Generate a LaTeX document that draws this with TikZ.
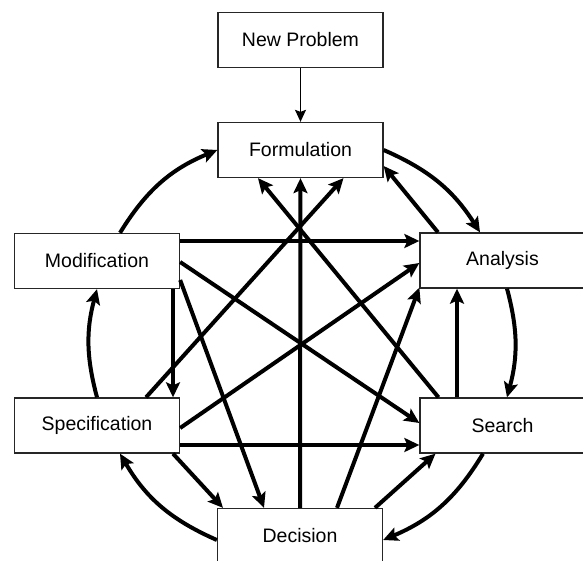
\documentclass[tikz,border=0pt]{standalone}
\usepackage{fontspec}
\setmainfont{Liberation Sans}
\usetikzlibrary{arrows.meta,calc}
\begin{document}
\begin{tikzpicture}[x=1pt,y=-1pt,
  stage/.style={draw=black!85,line width=1.3pt,fill=white,
    minimum width=165pt,minimum height=55pt,inner sep=0pt,
    font=\fontsize{19.5}{23}\selectfont},
  flow/.style={line width=4pt,-{Stealth[length=15pt,width=14pt,inset=3pt]}},
  ring/.style={flow},
  feed/.style={line width=1.3pt,-{Stealth[length=12pt,width=11pt,inset=2pt]}}]
\useasboundingbox (0,0) rectangle (583,561);
\clip (0,0) rectangle (583,561);
\fill[white] (0,0) rectangle (583,561);

% stages of the cycle
\node[stage] (np)   at (300.5,40)    {New Problem};
\node[stage] (form) at (300.5,150)   {Formulation};
\node[stage] (mod)  at (97,261)      {Modification};
\node[stage] (ana)  at (502.5,260.5) {Analysis};
\node[stage] (spec) at (97,425.5)    {Specification};
\node[stage] (srch) at (502.5,425.5) {Search};
\node[stage] (dec)  at (300,536)     {Decision};

% entry
\draw[feed] (np.south) -- (form.north);

% outer cycle
\draw[ring] ($(mod.north)+(23,0)$) to[bend left=18] (form.west);
\draw[ring] (form.east) to[bend left=17] ($(ana.north)+(-22.5,0)$);
\draw[ring] ($(ana.south)+(4.5,0)$) to[bend left=15] ($(srch.north)+(4.5,0)$);
\draw[ring] ($(srch.south)+(-19.5,0)$) to[bend left=18] ($(dec.east)+(0,4)$);
\draw[ring] ($(dec.west)+(0,4)$) to[bend left=18] ($(spec.south)+(23,0)$);
\draw[ring] (spec.north) to[bend left=15] (mod.south);

% cross links
\draw[flow] ($(mod.east)+(0,-20)$) -- ($(ana.west)+(0,-19.5)$);
\draw[flow] ($(mod.east)+(0,1)$) -- ($(srch.west)+(0,-2.5)$);
\draw[flow] ($(mod.east)+(0,19)$) -- ($(dec.north)+(-36,0)$);
\draw[flow] ($(mod.south)+(76,0)$) -- ($(spec.north)+(76,0)$);
\draw[flow] ($(spec.north)+(49,0)$) -- ($(form.south)+(43,0)$);
\draw[flow] ($(spec.east)+(0,2.5)$) -- ($(ana.west)+(0,2.5)$);
\draw[flow] ($(spec.east)+(0,19.5)$) -- ($(srch.west)+(0,19.5)$);
\draw[flow] ($(spec.south)+(76,0)$) -- ($(dec.north)+(-77,0)$);
\draw[flow] (dec.north) -- (form.south);
\draw[flow] ($(dec.north)+(37,0)$) -- ($(ana.south west)+(0,-1)$);
\draw[flow] ($(dec.north)+(75,0)$) -- ($(srch.south)+(-67,0)$);
\draw[flow] ($(srch.north)+(-45.5,0)$) -- ($(ana.south)+(-45.5,0)$);
\draw[flow] ($(srch.north)+(-64,0)$) -- ($(form.south)+(-42.5,0)$);
\draw[flow] ($(ana.north)+(-64.5,0)$) -- ($(form.east)+(0,16)$);
\end{tikzpicture}
\end{document}
